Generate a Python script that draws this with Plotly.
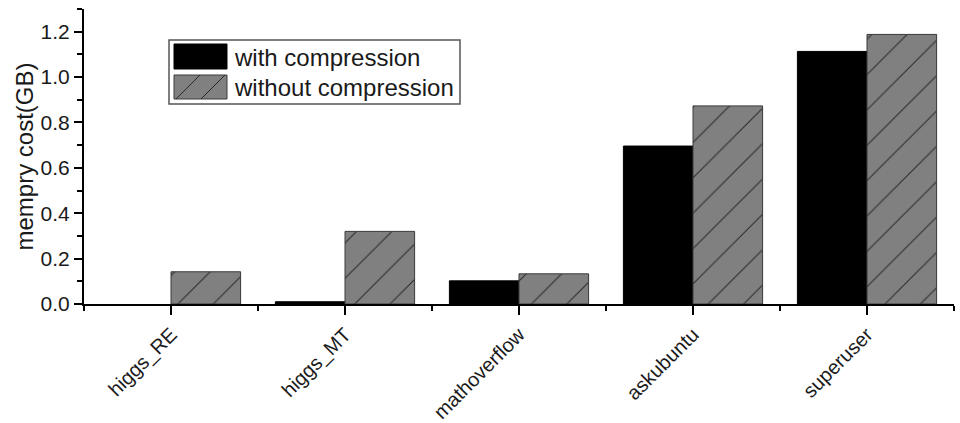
import plotly.graph_objects as go

# Datasets and measured memory cost (GB)
categories = ["higgs_RE", "higgs_MT", "mathoverflow", "askubuntu", "superuser"]
with_compression = [0.0, 0.01, 0.102, 0.696, 1.113]
without_compression = [0.142, 0.32, 0.133, 0.873, 1.188]
series_names = ["with compression", "without compression"]
y_tick_values = [0.0, 0.2, 0.4, 0.6, 0.8, 1.0, 1.2]

W, H = 960, 423
L, R, T, B = 84, 6, 9, 119
PW, PH = W - L - R, H - T - B

FONT = "Liberation Sans, Arial, sans-serif"
INK = "#1a1a1a"
GRAY = "#808080"

xpos = list(range(len(categories)))

# no outline on empty bars so nothing is drawn for a zero value
outline_w = [1 if v > 0 else 0 for v in with_compression]

fig = go.Figure()
fig.add_trace(go.Bar(
    x=xpos, y=with_compression, name=series_names[0],
    marker=dict(color="#000000", line=dict(color="#000000", width=outline_w)),
    showlegend=False,
))
fig.add_trace(go.Bar(
    x=xpos, y=without_compression, name=series_names[1],
    marker=dict(
        color=GRAY,
        line=dict(color="#3a3a3a", width=1),
        pattern=dict(shape="/", size=25, solidity=0.04,
                     fgcolor="#2a2a2a", bgcolor=GRAY, fillmode="replace"),
    ),
    showlegend=False,
))


def px(x):
    return (x - L) / PW


def py(y):
    return (H - B - y) / PH


# Boxed legend drawn in pixel space
shapes = [
    dict(type="rect", xref="paper", yref="paper",
         x0=px(169), x1=px(460), y0=py(104), y1=py(40),
         line=dict(color="#555555", width=1.5), fillcolor="white"),
    dict(type="rect", xref="paper", yref="paper",
         x0=px(174), x1=px(227), y0=py(69), y1=py(44),
         line=dict(color="#000000", width=1), fillcolor="#000000"),
    dict(type="rect", xref="paper", yref="paper",
         x0=px(174), x1=px(227), y0=py(99), y1=py(75),
         line=dict(color="#3a3a3a", width=1), fillcolor=GRAY),
]
for (x0, y0, x1, y1) in [(176, 99, 200, 75), (201, 99, 225, 75)]:
    shapes.append(dict(type="line", xref="paper", yref="paper",
                       x0=px(x0), y0=py(y0), x1=px(x1), y1=py(y1),
                       line=dict(color="#2a2a2a", width=1)))

annotations = [
    dict(text=series_names[0], xref="paper", yref="paper",
         x=px(232), y=py(57), xanchor="left", yanchor="middle",
         showarrow=False, font=dict(family=FONT, size=24, color=INK)),
    dict(text=series_names[1], xref="paper", yref="paper",
         x=px(232), y=py(87), xanchor="left", yanchor="middle",
         showarrow=False, font=dict(family=FONT, size=24, color=INK)),
]

fig.update_layout(
    width=W, height=H,
    margin=dict(l=L, r=R, t=T, b=B, pad=0, autoexpand=False),
    paper_bgcolor="white", plot_bgcolor="white",
    barmode="group", bargap=0.2, bargroupgap=0.0,
    font=dict(family=FONT, color=INK),
    shapes=shapes, annotations=annotations,
    xaxis=dict(
        range=[-0.5, 4.5], tickmode="array", tickvals=xpos, ticktext=categories,
        tickangle=-45, tickfont=dict(size=20, color=INK), automargin=False,
        showline=True, linecolor="#000000", linewidth=2,
        ticks="outside", ticklen=9, tickwidth=2, tickcolor="#000000",
        minor=dict(tickmode="linear", tick0=-0.5, dtick=1, ticks="outside",
                   ticklen=5, tickwidth=2, tickcolor="#000000"),
        showgrid=False, zeroline=False, fixedrange=True,
    ),
    yaxis=dict(
        range=[0, 1.3], tickmode="array", tickvals=y_tick_values,
        tickformat=".1f", tickfont=dict(size=21, color=INK), automargin=False,
        showline=True, linecolor="#000000", linewidth=2,
        ticks="outside", ticklen=8, tickwidth=2, tickcolor="#000000",
        minor=dict(tickmode="linear", tick0=0.1, dtick=0.2, ticks="outside",
                   ticklen=5, tickwidth=2, tickcolor="#000000"),
        showgrid=False, zeroline=False, fixedrange=True,
        title=dict(text="mempry cost(GB)", font=dict(size=24, color=INK),
                   standoff=0),
    ),
)

fig.write_html("out.html", config={"displayModeBar": False})
